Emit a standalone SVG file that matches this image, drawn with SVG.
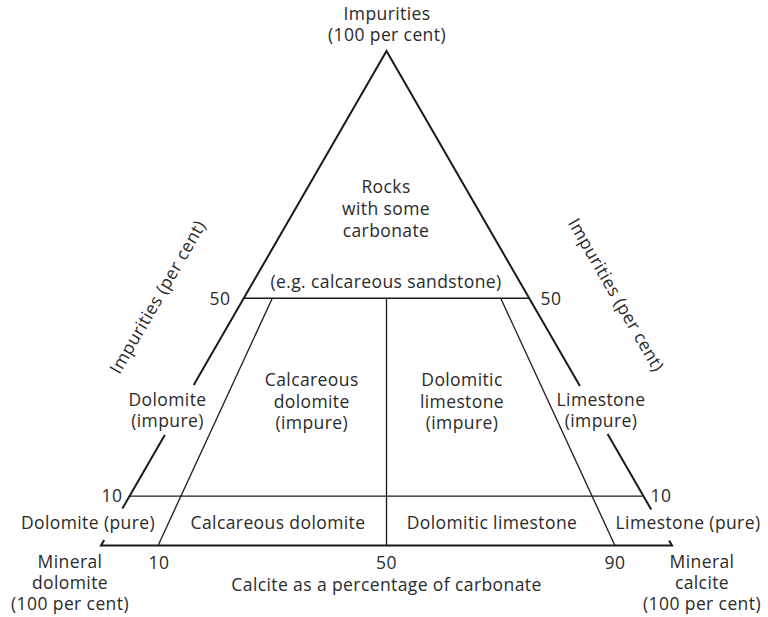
<svg xmlns="http://www.w3.org/2000/svg" width="768" height="617" viewBox="0 0 768 617">
<style>
  text { font-family: "Open Sans", "Liberation Sans", sans-serif; font-size: 17.5px; letter-spacing: 0.4px; fill: #2a2a2a; text-anchor: middle; }
  .edge { stroke: #1a1a1a; stroke-width: 2; fill: none; stroke-linecap: butt; }
  .inner { stroke: #1a1a1a; stroke-width: 1.3; fill: none; }
</style>
<rect width="768" height="617" fill="#ffffff"/>
<g id="frame">
  <path class="edge" d="M193.7,385 L386.5,51 L579.9,386"/>
  <path class="edge" d="M164.8,435 L122.4,508.5"/>
  <path class="edge" d="M104.2,540 L101,545.5 L672,545.5 L669.1,540.5"/>
  <path class="edge" d="M607.6,434 L651.2,509.5"/>
</g>
<g id="connectors">
  <line class="inner" x1="243.75" y1="298.25" x2="529.25" y2="298.25"/>
  <line class="inner" x1="129.55" y1="496.05" x2="642.45" y2="496.05"/>
  <line class="inner" x1="386.5" y1="298.25" x2="386.5" y2="545.5"/>
  <line class="inner" x1="158.1" y1="545.5" x2="272.3" y2="298.25"/>
  <line class="inner" x1="614.9" y1="545.5" x2="500.7" y2="298.25"/>
</g>
<g id="apex-label"><text x="387" y="20">Impurities</text><text x="387" y="41">(100 per cent)</text></g>
<g id="rocks"><text x="386" y="192.5">Rocks</text><text x="386" y="214.5">with some</text><text x="386" y="236.5">carbonate</text></g>
<g id="sandstone"><text x="386" y="288">(e.g. calcareous sandstone)</text></g>
<g id="tick-50-left"><text x="220" y="305">50</text></g>
<g id="tick-50-right"><text x="551" y="305">50</text></g>
<g id="axis-left"><text transform="translate(163,300) rotate(-60)">Impurities (per cent)</text></g>
<g id="axis-right"><text transform="translate(611,298) rotate(60)">Impurities (per cent)</text></g>
<g id="dolomite-impure"><text x="167.5" y="405.5">Dolomite</text><text x="167.5" y="426.5">(impure)</text></g>
<g id="calc-dolomite-impure"><text x="311.7" y="386">Calcareous</text><text x="311.7" y="408">dolomite</text><text x="311.7" y="429">(impure)</text></g>
<g id="dol-limestone-impure"><text x="462" y="386">Dolomitic</text><text x="462" y="408">limestone</text><text x="462" y="429">(impure)</text></g>
<g id="limestone-impure"><text x="601" y="405.5">Limestone</text><text x="601" y="426.5">(impure)</text></g>
<g id="tick-10-left"><text x="112" y="502">10</text></g>
<g id="tick-10-right"><text x="661" y="502">10</text></g>
<g id="dolomite-pure"><text x="88" y="529">Dolomite (pure)</text></g>
<g id="calc-dolomite"><text x="278" y="529">Calcareous dolomite</text></g>
<g id="dol-limestone"><text x="492" y="529">Dolomitic limestone</text></g>
<g id="limestone-pure"><text x="688" y="529">Limestone (pure)</text></g>
<g id="tick-10-bottom"><text x="159" y="569">10</text></g>
<g id="tick-50-bottom"><text x="386.5" y="569">50</text></g>
<g id="tick-90-bottom"><text x="615" y="569">90</text></g>
<g id="axis-bottom"><text x="386.5" y="591">Calcite as a percentage of carbonate</text></g>
<g id="mineral-dolomite"><text x="70" y="568">Mineral</text><text x="70" y="589">dolomite</text><text x="70" y="610">(100 per cent)</text></g>
<g id="mineral-calcite"><text x="702" y="568">Mineral</text><text x="702" y="589">calcite</text><text x="702" y="610">(100 per cent)</text></g>
</svg>
